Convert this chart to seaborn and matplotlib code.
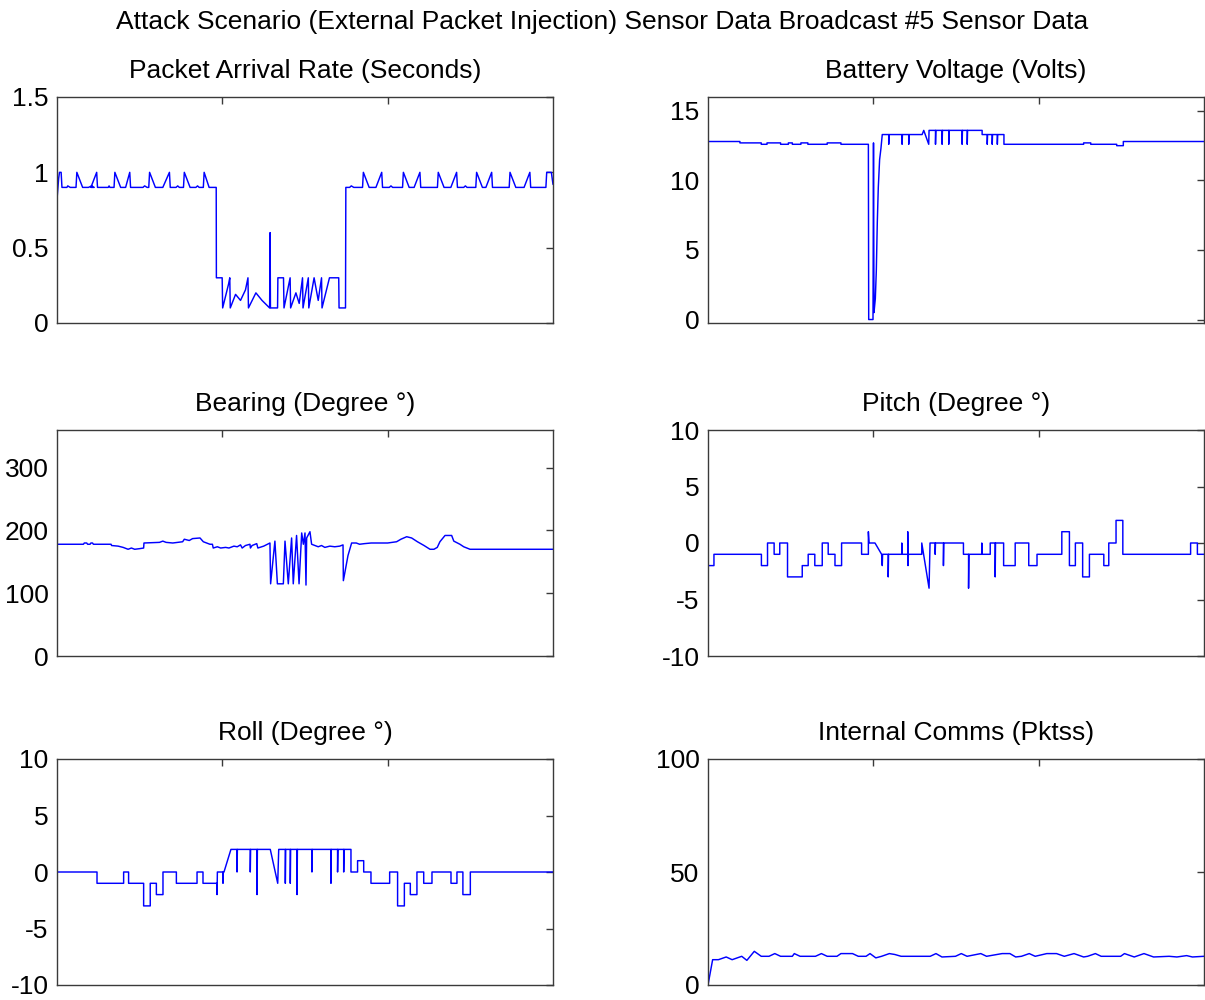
import matplotlib
matplotlib.use("Agg")
import matplotlib.pyplot as plt
import pandas as pd
import seaborn as sns

# ---- sensor traces: (sample time, value) vertices --------------------------

packet_rate = [
    (0, 0.82), (1, 0.96), (1.5, 1.0), (2.5, 1.0), (3, 0.9), (6, 0.9), (6.5, 0.91), (8, 0.9),
    (11.5, 0.9), (12, 1.0), (15.5, 0.9), (19, 0.9), (21, 0.91), (22.5, 0.9),
    (20.5, 0.9), (24, 1.0), (24.5, 0.9), (31, 0.9), (31.5, 0.91), (32, 0.9),
    (34.5, 0.9), (35, 1.0), (38.5, 0.9), (41.5, 0.9),
    (44, 1.0), (44.5, 0.9), (52, 0.9), (53, 0.91), (54.5, 0.9),
    (55.5, 0.9), (56, 1.0), (59.5, 0.9), (64, 0.9),
    (68, 1.0), (68.5, 0.9), (72, 0.9), (73, 0.91), (74, 0.9),
    (76.5, 0.9), (77, 1.0), (80.5, 0.9), (84, 0.9), (85, 0.91), (86, 0.9),
    (88.5, 0.9), (89, 1.0), (92, 0.9), (96.3, 0.9),
    (96.4, 0.3), (99.9, 0.3), (100.2, 0.1), (103.8, 0.26), (104.5, 0.3), (104.8, 0.1),
    (108, 0.19), (111, 0.15), (114, 0.22), (115.5, 0.3), (115.8, 0.1), (120.3, 0.2),
    (124, 0.15), (128.6, 0.1), (128.9, 0.6), (129.1, 0.1), (133.4, 0.1), (133.6, 0.3),
    (137, 0.3), (137.3, 0.1), (141, 0.3), (141.3, 0.1), (144.5, 0.2), (146.5, 0.13),
    (148.5, 0.3), (148.8, 0.1), (152, 0.3), (152.3, 0.1), (155.5, 0.3), (158, 0.15),
    (160, 0.3), (160.3, 0.1), (164.8, 0.3), (170.4, 0.3), (170.6, 0.1), (174.5, 0.1),
    (174.7, 0.9), (177, 0.9), (178, 0.91), (179.5, 0.9),
    (184.8, 0.9), (185.3, 1.0), (188.8, 0.9), (192.9, 0.9), (196.4, 1.0), (196.9, 0.9),
    (201, 0.9), (202, 0.91), (203, 0.9),
    (209, 0.9), (209.5, 1.0), (213, 0.9), (216, 0.9), (219.5, 1.0), (220, 0.9),
    (230.1, 0.9), (230.6, 1.0), (234.1, 0.9), (238.2, 0.9), (241.7, 1.0), (242.2, 0.9),
    (246, 0.9), (247, 0.91), (248, 0.9),
    (253.3, 0.9), (253.8, 1.0), (257.3, 0.9), (259.4, 0.9), (262.9, 1.0), (263.4, 0.9),
    (273.5, 0.9), (274, 1.0), (277.5, 0.9), (282.5, 0.9), (286, 1.0), (286.5, 0.9),
    (295.7, 0.9), (296.2, 1.0), (299, 1.0), (300, 0.92),
]

battery_volts = [
    (0, 12.8), (19.3, 12.8), (19.3, 12.7), (32.2, 12.7), (32.2, 12.6), (35.7, 12.6),
    (35.7, 12.7), (43.9, 12.7), (43.9, 12.6), (48.6, 12.6), (48.6, 12.7), (51, 12.7),
    (51, 12.6), (56.2, 12.6), (56.2, 12.7), (60.4, 12.7), (60.4, 12.6), (72.1, 12.6),
    (72.1, 12.7), (80.4, 12.7), (80.4, 12.6), (97, 12.6), (97.2, 0), (99.8, 0),
    (100.1, 12.7), (100.4, 0.5), (101.2, 1.5), (101.8, 3.5), (102.4, 7), (103, 9.5),
    (103.8, 11.5), (104.6, 12.3), (105.4, 13.3), (109.3, 13.3), (109.3, 12.6),
    (109.5, 13.3), (117.4, 13.3), (117.4, 12.6), (117.6, 13.3), (121.4, 13.3),
    (121.4, 12.6), (121.6, 13.3), (129.5, 13.3), (130.5, 13.6), (133.5, 12.6),
    (133.7, 13.6), (137.6, 13.6), (137.6, 12.6), (137.8, 13.6), (141.6, 13.6),
    (141.6, 12.6), (141.8, 13.6), (145.6, 13.6), (145.6, 12.6), (145.8, 13.6),
    (153.7, 13.6), (153.7, 12.6), (153.9, 13.6), (156.8, 13.6), (156.8, 12.6),
    (157, 13.6), (165.8, 13.6), (165.8, 13.3), (168.9, 13.3), (168.9, 12.6),
    (169.1, 13.3), (171.9, 13.3), (171.9, 12.6), (172.1, 13.3), (175, 13.3),
    (175, 12.6), (175.2, 13.3), (179, 13.3), (179, 12.6), (227.2, 12.6), (227.2, 12.7),
    (231.5, 12.7), (231.5, 12.6), (247.2, 12.6), (247.2, 12.5), (251.2, 12.5),
    (251.2, 12.8), (300, 12.8),
]

bearing_deg = [
    (0, 178), (16, 178), (16.5, 180), (18, 180), (18.5, 178), (20, 178), (20.5, 180),
    (21.5, 180), (22, 178), (32.7, 178), (33, 176), (37, 175), (40, 173), (43, 170),
    (45, 172), (47, 170), (50, 171), (52.4, 172), (52.6, 180), (62, 181), (64, 183),
    (66, 181), (70, 180), (76, 182), (77, 186), (80, 184), (82, 187), (86.5, 188),
    (88.5, 182), (90.5, 180), (92.5, 178), (94, 178), (94.5, 172), (97, 174), (99, 172),
    (102, 173), (104, 172), (107, 175), (109, 174), (111, 177), (112, 172), (114, 176),
    (116.7, 178), (117, 172), (118, 176), (120.8, 179), (121.5, 172), (125, 175),
    (128.8, 180), (129.2, 115), (131.8, 183), (133.3, 115), (136.9, 115), (137.9, 183),
    (139.9, 115), (141.9, 188), (142.9, 115), (144.9, 192), (146.4, 115), (148, 196),
    (149, 178), (150, 196), (150.6, 113), (151, 188), (153, 198), (154, 178), (156, 176),
    (158, 174), (160, 176), (162, 173), (165, 175), (168, 174), (171, 175), (173, 177),
    (173.2, 120), (176, 160), (178.2, 180), (181, 180), (183, 178), (186, 179),
    (190, 180), (196, 180), (200, 180), (205.4, 182), (208, 186), (211.5, 190),
    (214.5, 188), (218, 182), (222, 176), (225.6, 170), (228, 170), (230, 173),
    (231.6, 182), (234.7, 192), (238.7, 192), (240, 183), (243.7, 178), (246, 174),
    (249.8, 170), (300, 170),
]

pitch_deg = [
    (0, -2), (3.6, -2), (3.6, -1), (32.3, -1), (32.3, -2), (36, -2), (36, 0), (40, 0),
    (40, -1), (43.4, -1), (43.4, 0), (48.1, 0), (48.1, -3), (57, -3), (57, -2),
    (60.6, -2), (60.6, -1), (64.6, -1), (64.6, -2), (69.1, -2), (69.1, 0), (72.7, 0),
    (72.7, -1), (76.8, -1), (76.8, -2), (80.8, -2), (80.8, 0), (92.9, 0), (92.9, -1),
    (97, -1), (97, 1), (97.4, 0), (101, 0), (105, -1), (105.4, -2), (105.6, -1),
    (109, -1), (109, -3), (109.2, -1), (117.2, -1), (117.2, 0), (117.4, -1),
    (120.8, -1), (120.8, 1), (121, -2), (121.2, -1), (129.3, -1), (129.3, 0),
    (133.7, -4), (134.3, 0), (137.4, 0), (137.4, -1), (137.6, 0), (142.4, 0),
    (142.4, -2), (142.6, 0), (154.5, 0), (154.5, -1), (157.6, -1), (157.6, -4),
    (157.8, -1), (165.6, -1), (165.6, 0), (165.8, -1), (170.7, -1), (170.7, 0),
    (173.7, 0), (173.7, -3), (173.9, 0), (178.8, 0), (178.8, -2), (185.8, -2),
    (185.8, 0), (194, 0), (194, -2), (199, -2), (199, -1), (214, -1), (214, 1),
    (218.6, 1), (218.6, -2), (222.2, -2), (222.2, 0), (226.6, 0), (226.6, -3),
    (230.7, -3), (230.7, -1), (239.4, -1), (239.4, -2), (242.4, -2), (242.4, 0),
    (246.8, 0), (246.8, 2), (250.9, 2), (250.9, -1), (291.9, -1), (291.9, 0),
    (296, 0), (296, -1), (300, -1),
]

roll_deg = [
    (0, 0), (24.2, 0), (24.2, -1), (40.3, -1), (40.3, 0), (43.3, 0), (43.3, -1),
    (52.4, -1), (52.4, -3), (56.4, -3), (56.4, -1), (60.1, -1), (60.1, -2), (64.1, -2),
    (64.1, 0), (72.2, 0), (72.2, -1), (84.7, -1), (84.7, 0), (88.3, 0), (88.3, -1),
    (96.8, -1), (96.8, -2), (97, 0), (100.4, 0), (100.4, -1), (100.6, 0), (101, 0),
    (105.2, 2), (108.9, 2), (108.9, 0), (109.1, 2), (116.9, 2), (116.9, 0), (117.1, 2),
    (121, 2), (121, -2), (121.2, 2), (129, 2), (133.5, -1), (134.1, 2), (138.1, 2),
    (138.1, -1), (138.3, 2), (141.1, 2), (141.1, -1), (141.3, 2), (145.2, 2),
    (145.2, -2), (145.4, 2), (154.2, 2), (154.2, 0), (154.4, 2), (165.7, 2),
    (165.7, -1), (165.9, 2), (169.7, 2), (169.7, 0), (169.9, 2), (173.4, 2),
    (173.4, 0), (173.6, 2), (177.8, 2), (177.8, 0), (181.8, 0), (181.8, 1),
    (185.5, 1), (185.5, 0), (189.9, 0), (189.9, -1), (201.2, -1), (201.2, 0),
    (206, 0), (206, -3), (210.1, -3), (210.1, -1), (213.7, -1), (213.7, -2),
    (217.7, -2), (217.7, 0), (221.8, 0), (221.8, -1), (226.8, -1), (226.8, 0),
    (238.3, 0), (238.3, -1), (241.9, -1), (241.9, 0), (245.5, 0), (245.5, -2),
    (250, -2), (250, 0), (300, 0),
]

internal_comms = [
    (0, 0), (2.8, 11.2), (6.3, 11.2), (11, 12.4), (14.6, 11.2), (20.4, 12.7),
    (23.5, 10.9), (28, 14.9), (32.2, 12.7), (36.9, 12.7), (40.4, 13.9), (43.9, 12.7),
    (51, 12.7), (52.2, 13.9), (55.7, 12.7), (65, 12.7), (68.6, 13.9), (72.1, 12.7),
    (78, 12.7), (80.4, 13.9), (87.4, 13.9), (90.9, 12.7), (95.6, 12.7), (98, 13.9),
    (101.5, 12), (105, 12.7), (109.7, 13.9), (113, 13.5), (116.8, 12.7), (134.4, 12.7),
    (137.9, 13.9), (141.5, 12.4), (149.7, 12.7), (153.2, 13.9), (156.7, 12.7),
    (165, 13.9), (168.5, 12.7), (177.9, 13.9), (182.6, 13.9), (186.1, 12.4),
    (189.6, 12.7), (194.3, 13.9), (197.9, 12.7), (204.9, 13.9), (210.8, 13.9),
    (215.5, 12.7), (221.4, 13.9), (227.2, 12.4), (229.6, 12.7), (234.3, 13.9),
    (237.8, 12.7), (249.6, 12.7), (251.9, 13.9), (257.8, 12.4), (263.7, 13.9),
    (269.5, 12.4), (278.9, 12.7), (283.6, 12.4), (289.5, 13.0), (293, 12.4),
    (300, 12.7),
]

suptitle_text = ("Attack Scenario (External Packet Injection) "
                 "Sensor Data Broadcast #5 Sensor Data")

panel_titles = [
    "Packet Arrival Rate (Seconds)", "Battery Voltage (Volts)",
    "Bearing (Degree \u00b0)", "Pitch (Degree \u00b0)",
    "Roll (Degree \u00b0)", "Internal Comms (Pktss)",
]
panel_series = [packet_rate, battery_volts, bearing_deg, pitch_deg, roll_deg,
                internal_comms]
panel_ylims = [(0, 1.5), (-0.25, 16), (0, 360), (-10, 10), (-10, 10), (0, 100)]
panel_yticks = [
    [0, 0.5, 1, 1.5], [0, 5, 10, 15], [0, 100, 200, 300],
    [-10, -5, 0, 5, 10], [-10, -5, 0, 5, 10], [0, 50, 100],
]
panel_yticklabels = [
    ["0", "0.5", "1", "1.5"], ["0", "5", "10", "15"], ["0", "100", "200", "300"],
    ["-10", "-5", "0", "5", "10"], ["-10", "-5", "0", "5", "10"], ["0", "50", "100"],
]
x_ticks = [100, 200]

# ---- drawing ---------------------------------------------------------------

sns.set_style("white")
plt.rcParams["font.family"] = ["Liberation Sans", "DejaVu Sans"]
plt.rcParams["text.color"] = "black"

W, H = 1205, 1000
fig = plt.figure(figsize=(W / 100, H / 100), dpi=100)

col_left = [57, 708]
col_width = 496
row_top = [97, 430, 759]
row_height = 226

frame_color = "#3a3a3a"
font_size = 19

for i, (title, series) in enumerate(zip(panel_titles, panel_series)):
    r, c = divmod(i, 2)
    left = col_left[c] / W
    bottom = 1 - (row_top[r] + row_height) / H
    ax = fig.add_axes([left, bottom, col_width / W, row_height / H])

    t, v = zip(*series)
    df = pd.DataFrame({"t": t, "v": v})
    sns.lineplot(data=df, x="t", y="v", estimator=None, sort=False,
                 color="#0000ff", linewidth=1.05, ax=ax)

    ax.set_xlim(0, 300)
    ax.set_ylim(*panel_ylims[i])
    ax.set_xticks(x_ticks)
    ax.set_xticklabels([])
    ax.set_yticks(panel_yticks[i])
    ax.set_yticklabels(panel_yticklabels[i])
    ax.set_xlabel("")
    ax.set_ylabel("")
    ax.tick_params(direction="in", top=True, right=True, length=5, width=1,
                   color=frame_color, labelsize=font_size, pad=6,
                   labelcolor="black")
    for sp in ax.spines.values():
        sp.set_color(frame_color)
        sp.set_linewidth(1.0)
    ax.set_title(title, fontsize=font_size, pad=14, color="black")

fig.text(0.5, 1 - 22 / H, suptitle_text, ha="center", va="center",
         fontsize=font_size, color="black")

fig.savefig("out.png", dpi=100)
